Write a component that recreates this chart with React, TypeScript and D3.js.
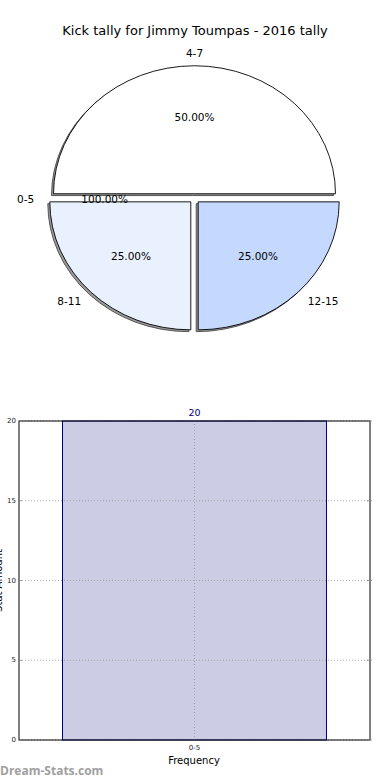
import React from "react";
import * as d3 from "d3";

const width = 390;
const height = 780;

// pie data (matplotlib-like order, counter-clockwise from 3 o'clock)
const sliceLabels = ["4-7", "0-5", "8-11", "12-15"];
const sliceValues = [50, 0, 25, 25];
const slicePctLabels = ["50.00%", "100.00%", "25.00%", "25.00%"];
const sliceColors = ["#ffffff", "#ffffff", "#eaf1fe", "#c5d9fe"];

// bar data
const barCategories = ["0-5"];
const barValues = [20];
const yTicks = [0, 5, 10, 15, 20];

const title = "Kick tally for Jimmy Toumpas - 2016 tally";

const font = "'DejaVu Sans', sans-serif";

const App = () => {
  // ---- pie ----
  const cx = 194.5;
  const cy = 198.5;
  const rx = 141;
  const ry = 128;
  const explode = 0.037;

  const pie = d3
    .pie<number>()
    .sort(null)
    .value((d) => d)
    .startAngle(Math.PI / 2)
    .endAngle(Math.PI / 2 - 2 * Math.PI);
  const arcs = pie(sliceValues);
  const arc = d3.arc<d3.PieArcDatum<number>>().innerRadius(0).outerRadius(1);

  // d3 angle -> unit vector (x right, y down)
  const dir = (a: number) => [Math.sin(a), -Math.cos(a)];

  // ---- bar ----
  const left = 19;
  const right = 370;
  const top = 421;
  const bottom = 740;

  const x = d3.scaleBand().domain(barCategories).range([left, right]).padding(0.1415);
  const y = d3.scaleLinear().domain([0, 20]).range([bottom, top]);

  return (
    <svg
      width={width}
      height={height}
      style={{ position: "absolute", left: 0, top: 0, background: "#fff" }}
      fontFamily={font}
    >
      <rect width={width} height={height} fill="#fff" />
      <text x={195} y={35} textAnchor="middle" fontSize={13} fill="#000">
        {title}
      </text>

      {/* shadows */}
      {arcs.map((a, i) => {
        if (a.value === 0) return null;
        const mid = (a.startAngle + a.endAngle) / 2;
        const [ux, uy] = dir(mid);
        const ox = cx + explode * rx * ux - 2;
        const oy = cy + explode * ry * uy + 1.8;
        return (
          <g key={"s" + i} transform={`translate(${ox},${oy}) scale(${rx},${ry})`}>
            <path
              d={arc(a) || ""}
              fill="#9a9a9a"
              stroke="#555"
              strokeWidth={1}
              vectorEffect="non-scaling-stroke"
            />
          </g>
        );
      })}

      {/* slices */}
      {arcs.map((a, i) => {
        if (a.value === 0) return null;
        const mid = (a.startAngle + a.endAngle) / 2;
        const [ux, uy] = dir(mid);
        const ox = cx + explode * rx * ux;
        const oy = cy + explode * ry * uy;
        return (
          <g key={"p" + i} transform={`translate(${ox},${oy}) scale(${rx},${ry})`}>
            <path
              d={arc(a) || ""}
              fill={sliceColors[i]}
              stroke="#000"
              strokeWidth={0.9}
              vectorEffect="non-scaling-stroke"
            />
          </g>
        );
      })}

      {/* labels */}
      {arcs.map((a, i) => {
        const mid = (a.startAngle + a.endAngle) / 2;
        const [ux, uy] = dir(mid);
        const ox = cx + explode * rx * ux;
        const oy = cy + explode * ry * uy;
        const lx = ox + 1.1 * rx * ux;
        const ly = oy + 1.1 * ry * uy;
        const px = ox + 0.6 * rx * ux;
        const py = oy + 0.6 * ry * uy;
        const anchor = Math.abs(ux) < 1e-6 ? "middle" : ux > 0 ? "start" : "end";
        return (
          <g key={"l" + i} fontSize={10.5} fill="#000">
            <text x={lx} y={ly} textAnchor={anchor} dominantBaseline="central">
              {sliceLabels[i]}
            </text>
            <text x={px} y={py} textAnchor="middle" dominantBaseline="central">
              {slicePctLabels[i]}
            </text>
          </g>
        );
      })}

      {/* bar chart */}
      {barCategories.map((c, i) => (
        <g key={"b" + i}>
          <rect
            x={x(c)}
            y={y(barValues[i])}
            width={x.bandwidth()}
            height={y(0) - y(barValues[i])}
            fill="#cccce4"
            stroke="#000080"
            strokeWidth={1}
          />
          <text
            x={(x(c) || 0) + x.bandwidth() / 2}
            y={y(barValues[i]) - 5}
            textAnchor="middle"
            fontSize={9.5}
            fill="#000080"
          >
            {barValues[i]}
          </text>
        </g>
      ))}

      {/* grid */}
      {yTicks.map((t) => (
        <line
          key={"gy" + t}
          x1={left}
          x2={right}
          y1={y(t)}
          y2={y(t)}
          stroke="#999"
          strokeWidth={0.8}
          strokeDasharray="1,2"
        />
      ))}
      {barCategories.map((c) => (
        <line
          key={"gx" + c}
          x1={(x(c) || 0) + x.bandwidth() / 2}
          x2={(x(c) || 0) + x.bandwidth() / 2}
          y1={top}
          y2={bottom}
          stroke="#999"
          strokeWidth={0.8}
          strokeDasharray="1,2"
        />
      ))}

      <rect x={left} y={top} width={right - left} height={bottom - top} fill="none" stroke="#000" strokeWidth={1} />

      {/* ticks */}
      {yTicks.map((t) => (
        <g key={"t" + t}>
          <line x1={left} x2={left + 3} y1={y(t)} y2={y(t)} stroke="#888" strokeWidth={0.8} />
          <line x1={right - 3} x2={right + 2} y1={y(t)} y2={y(t)} stroke="#888" strokeWidth={0.8} />
          <text x={left - 3} y={y(t)} textAnchor="end" dominantBaseline="central" fontSize={7} fill="#222">
            {t}
          </text>
        </g>
      ))}
      {barCategories.map((c) => (
        <text
          key={"xt" + c}
          x={(x(c) || 0) + x.bandwidth() / 2}
          y={bottom + 8}
          textAnchor="middle"
          dominantBaseline="central"
          fontSize={7}
          fill="#222"
        >
          {c}
        </text>
      ))}
      <text x={194} y={764} textAnchor="middle" fontSize={10} fill="#000">
        Frequency
      </text>
      <text
        transform={`translate(2,${(top + bottom) / 2}) rotate(-90)`}
        textAnchor="middle"
        fontSize={10}
        fill="#000"
      >
        Stat Amount
      </text>

      <text x={0} y={775} fontSize={12} fontWeight="bold" fill="#a0a0a0" fontFamily="'Open Sans', sans-serif">
        Dream-Stats.com
      </text>
    </svg>
  );
};

export default App;
